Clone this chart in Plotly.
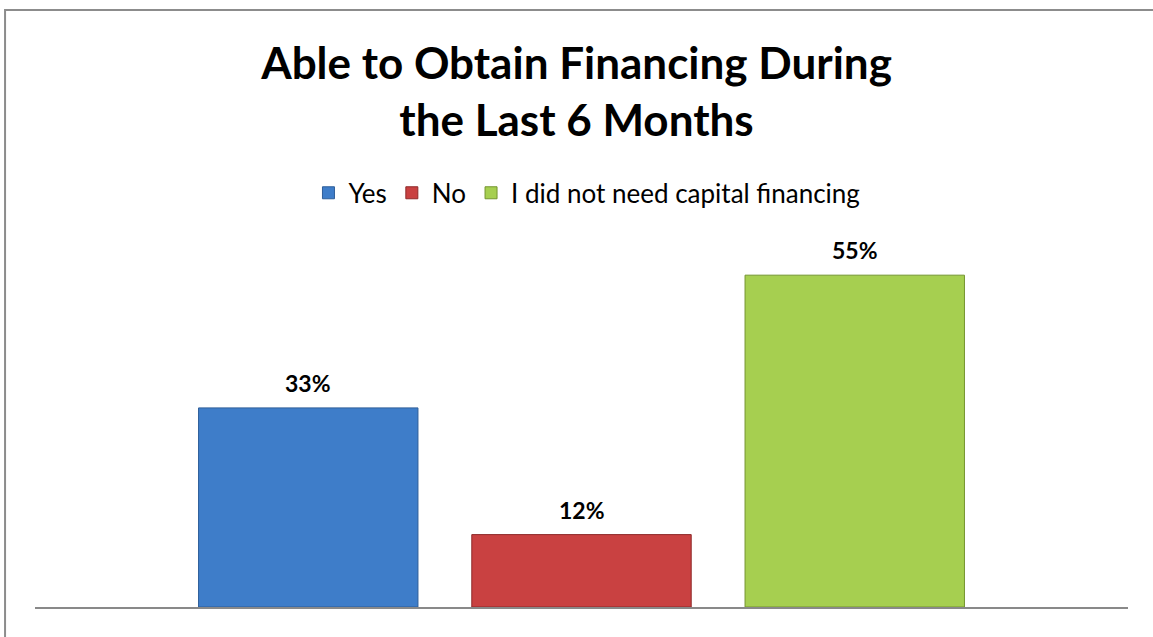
import plotly.graph_objects as go

# survey answers
series_names = ["Yes", "No", "I did not need capital financing"]
series_values = [33, 12, 55]
series_colors = ["#3E7DC9", "#C94141", "#A6CF50"]
series_edges = ["#2E5E99", "#8E2A2A", "#74952F"]

fig = go.Figure()

for name, val, col, edge in zip(series_names, series_values, series_colors, series_edges):
    fig.add_trace(go.Bar(
        x=[name], y=[val],
        name=name,
        marker=dict(color=col, line=dict(color=edge, width=1)),
        width=0.803,
    ))

# value labels above the bars
labels = [dict(
    x=name, y=val, xref="x", yref="y",
    text=f"<b>{val}%</b>",
    showarrow=False, yanchor="bottom", yshift=9,
    font=dict(family="Lato", size=23, color="black"),
) for name, val in zip(series_names, series_values)]

fig.update_layout(
    width=1153, height=637,
    barmode="overlay",
    paper_bgcolor="white",
    plot_bgcolor="white",
    margin=dict(l=35, r=25, t=245, b=30),
    title=dict(
        text="<b>Able to Obtain Financing During<br>the Last 6 Months</b>",
        x=0.5, xanchor="center",
        y=0.876, yanchor="middle",
        font=dict(family="Lato", size=44, color="black"),
    ),
    legend=dict(
        orientation="h",
        x=0.505, xanchor="center",
        y=1.144, yanchor="middle",
        font=dict(family="Lato", size=26, color="black"),
        itemwidth=30,
        traceorder="normal",
    ),
    xaxis=dict(
        type="category", range=[-1, 3],
        showline=True, linecolor="#898989", linewidth=2,
        showticklabels=False, showgrid=False, zeroline=False,
    ),
    yaxis=dict(range=[0, 60], visible=False),
    annotations=labels,
    shapes=[dict(
        type="rect", xref="paper", yref="paper",
        x0=-0.0274, x1=1.2, y0=-0.3, y1=1.649,
        line=dict(color="#8C8C8C", width=2),
        fillcolor="rgba(0,0,0,0)", layer="below",
    )],
)

fig.write_html("out.html", config={"displayModeBar": False},
               post_script="document.body.style.margin='0';")
